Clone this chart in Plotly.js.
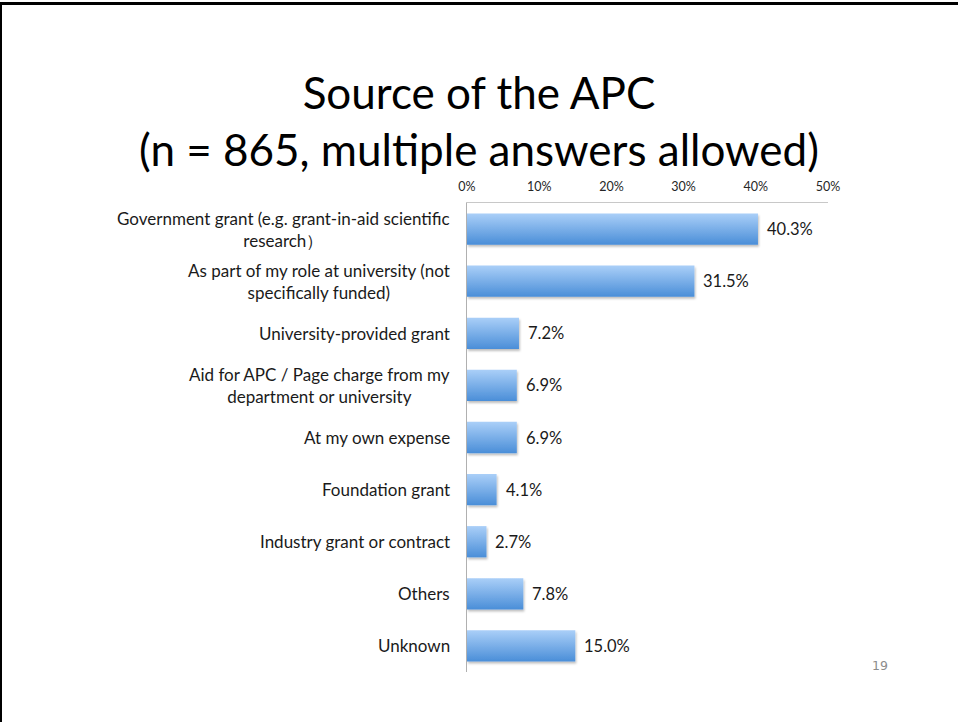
<!DOCTYPE html>
<html>
<head>
<meta charset="utf-8">
<script src="https://cdn.plot.ly/plotly-3.0.1.min.js"></script>
<style>
  html, body { margin: 0; padding: 0; background: #fff; }
  #wrap { position: relative; width: 958px; height: 722px; overflow: hidden; }
  #chart { position: absolute; left: 0; top: 0; width: 958px; height: 722px; }
  #btop { position: absolute; left: 0; top: 2px; width: 958px; height: 3px; background: #000; }
  #bleft { position: absolute; left: 0; top: 2px; width: 2px; height: 720px; background: #000; }
</style>
</head>
<body>
<div id="wrap">
  <div id="chart"></div>
  <div id="btop"></div>
  <div id="bleft"></div>
</div>
<script>
const categories = [
  "Government grant (e.g. grant-in-aid scientific<br>research）",
  "As part of my role at university (not<br>specifically funded)",
  "University-provided grant",
  "Aid for APC / Page charge from my<br>department or university",
  "At my own expense",
  "Foundation grant",
  "Industry grant or contract",
  "Others",
  "Unknown"
];
const shares = [0.403, 0.315, 0.072, 0.069, 0.069, 0.041, 0.027, 0.078, 0.150];
const tickVals = [0, 0.1, 0.2, 0.3, 0.4, 0.5];
const tickLabels = ["0%", "10%", "20%", "30%", "40%", "50%"];
const titleText = "Source of the APC<br>(n = 865, multiple answers allowed)";
const pageNumber = "19";

const FONT = "Lato, 'Open Sans', sans-serif";

const trace = {
  type: "bar",
  orientation: "h",
  y: categories,
  x: shares,
  marker: { color: "#79aee8", line: { width: 0 } },
  hoverinfo: "skip"
};

const annotations = [];
categories.forEach((c, i) => {
  annotations.push({
    xref: "paper", yref: "y", x: 0, y: c,
    text: c, showarrow: false, xanchor: "right", yanchor: "middle",
    align: "center", xshift: -15,
    font: { family: FONT, size: 17, color: "#1a1a1a" }
  });
  annotations.push({
    xref: "x", yref: "y", x: shares[i], y: c,
    text: (shares[i] * 100).toFixed(1) + "%", showarrow: false,
    xanchor: "left", yanchor: "middle", xshift: 7,
    font: { family: FONT, size: 16.5, color: "#1a1a1a" }
  });
});
annotations.push({
  xref: "paper", yref: "paper", x: (880 - 467) / 361, y: (672 - 665) / 469,
  text: pageNumber, showarrow: false, xanchor: "center", yanchor: "middle",
  font: { family: "'DejaVu Sans', sans-serif", size: 12.5, color: "#8c8c8c" }
});

const layout = {
  width: 958, height: 722,
  margin: { l: 467, r: 130, t: 203, b: 50, pad: 0 },
  paper_bgcolor: "#ffffff", plot_bgcolor: "#ffffff",
  showlegend: false,
  bargap: 0.4,
  title: {
    text: titleText,
    x: 0.5, xref: "container", xanchor: "center",
    y: 1 - 109 / 722, yref: "container", yanchor: "middle",
    font: { family: FONT, size: 44, color: "#000000" }
  },
  xaxis: {
    side: "top", range: [0, 0.5], tickvals: tickVals, ticktext: tickLabels,
    showgrid: false, zeroline: false, showline: true, linecolor: "#c8c8c8", linewidth: 1,
    ticks: "", ticklabelstandoff: 6,
    tickfont: { family: FONT, size: 12.5, color: "#262626" },
    fixedrange: true
  },
  yaxis: {
    autorange: "reversed", showticklabels: false, ticks: "",
    showgrid: false, zeroline: false, showline: true, linecolor: "#b0b0b0", linewidth: 1,
    fixedrange: true
  },
  annotations: annotations
};

Plotly.newPlot("chart", [trace], layout, { staticPlot: true, displayModeBar: false }).then(gd => {
  const svg = gd.querySelector("svg.main-svg");
  const ns = "http://www.w3.org/2000/svg";
  let defs = svg.querySelector("defs");
  if (!defs) { defs = document.createElementNS(ns, "defs"); svg.insertBefore(defs, svg.firstChild); }
  const grad = document.createElementNS(ns, "linearGradient");
  grad.setAttribute("id", "barGrad");
  grad.setAttribute("x1", "0"); grad.setAttribute("y1", "0");
  grad.setAttribute("x2", "0"); grad.setAttribute("y2", "1");
  [["0%", "#aacff8"], ["100%", "#4a8ed8"]].forEach(([o, c]) => {
    const s = document.createElementNS(ns, "stop");
    s.setAttribute("offset", o); s.setAttribute("stop-color", c);
    grad.appendChild(s);
  });
  defs.appendChild(grad);
  const filt = document.createElementNS(ns, "filter");
  filt.setAttribute("id", "barShadow");
  filt.setAttribute("x", "-5%"); filt.setAttribute("y", "-20%");
  filt.setAttribute("width", "115%"); filt.setAttribute("height", "160%");
  const ds = document.createElementNS(ns, "feDropShadow");
  ds.setAttribute("dx", "1"); ds.setAttribute("dy", "2");
  ds.setAttribute("stdDeviation", "1");
  ds.setAttribute("flood-color", "#000"); ds.setAttribute("flood-opacity", "0.25");
  filt.appendChild(ds);
  defs.appendChild(filt);
  gd.querySelectorAll(".bars path").forEach(p => {
    p.style.fill = "url(#barGrad)";
    p.setAttribute("filter", "url(#barShadow)");
  });
});
</script>
</body>
</html>
